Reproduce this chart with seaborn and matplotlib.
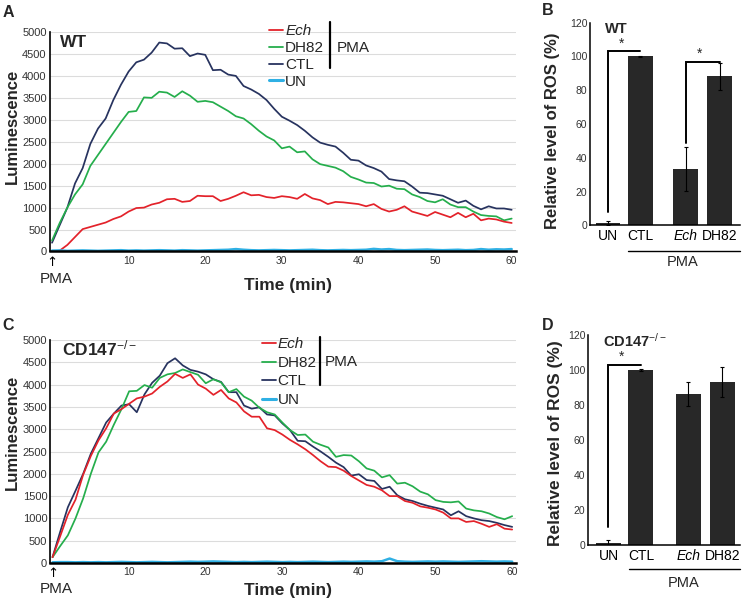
import matplotlib
matplotlib.use("Agg")
import matplotlib.pyplot as plt
import matplotlib.transforms as mtransforms
from matplotlib.lines import Line2D
import seaborn as sns
import pandas as pd

# ---------------- data ----------------
time = list(range(61))

A_ech = [0, 20, 150, 330, 510, 560, 610, 660, 740, 800, 910, 990, 1000, 1070, 1110, 1190, 1200, 1130, 1150, 1270,
         1260, 1260, 1150, 1200, 1270, 1350, 1280, 1290, 1240, 1220, 1260, 1240, 1200, 1310, 1210, 1170, 1080, 1130,
         1120, 1100, 1080, 1030, 1080, 970, 910, 950, 1030, 910, 860, 810, 900, 840, 780, 880, 780, 860, 710, 750,
         730, 680, 650]
A_dh82 = [250, 650, 1000, 1300, 1530, 1950, 2200, 2450, 2700, 2950, 3180, 3200, 3510, 3500, 3640, 3620, 3520, 3650,
          3550, 3410, 3430, 3400, 3300, 3200, 3080, 3030, 2900, 2750, 2620, 2530, 2350, 2390, 2260, 2280, 2100, 1990,
          1950, 1910, 1830, 1700, 1640, 1570, 1560, 1480, 1500, 1430, 1420, 1300, 1240, 1150, 1120, 1190, 1070, 1010,
          1010, 910, 830, 810, 800, 710, 750]
A_ctl = [200, 600, 1000, 1550, 1900, 2450, 2800, 3030, 3450, 3800, 4100, 4310, 4370, 4530, 4760, 4740, 4620, 4630,
         4450, 4510, 4480, 4130, 4140, 4030, 4000, 3770, 3690, 3590, 3450, 3250, 3070, 2980, 2880, 2750, 2600, 2480,
         2430, 2390, 2250, 2090, 2070, 1960, 1900, 1820, 1650, 1620, 1600, 1480, 1340, 1330, 1300, 1270, 1190, 1110,
         1160, 1040, 960, 1030, 980, 980, 950]
A_un = [20, 25, 15, 20, 25, 20, 15, 20, 25, 30, 20, 25, 20, 25, 30, 25, 20, 30, 25, 20, 25, 30, 35, 40, 55, 40, 30,
        25, 30, 35, 30, 25, 30, 35, 40, 30, 25, 30, 35, 30, 35, 40, 60, 45, 55, 35, 30, 35, 40, 45, 35, 30, 35, 40,
        30, 35, 55, 40, 50, 45, 55]

C_ech = [130, 600, 1080, 1420, 1980, 2400, 2750, 3020, 3350, 3450, 3570, 3690, 3730, 3800, 3950, 4070, 4240, 4150,
         4230, 4000, 3910, 3770, 3880, 3690, 3600, 3400, 3280, 3280, 3020, 2980, 2880, 2760, 2660, 2550, 2420, 2280,
         2160, 2150, 2070, 1950, 1850, 1750, 1710, 1630, 1500, 1500, 1390, 1350, 1270, 1240, 1200, 1130, 1000, 1000,
         920, 940, 880, 810, 870, 770, 750]
C_dh82 = [130, 380, 620, 1000, 1450, 2000, 2480, 2720, 3100, 3450, 3850, 3860, 3990, 3930, 4150, 4230, 4260, 4340,
          4280, 4220, 4030, 4120, 4050, 3830, 3900, 3730, 3640, 3480, 3380, 3330, 3150, 2980, 2870, 2880, 2720, 2650,
          2590, 2380, 2420, 2410, 2280, 2120, 2070, 1920, 1970, 1780, 1800, 1720, 1600, 1540, 1410, 1370, 1360, 1380,
          1220, 1180, 1160, 1110, 1030, 980, 1050]
C_ctl = [130, 700, 1250, 1620, 2000, 2450, 2800, 3150, 3350, 3530, 3560, 3380, 3780, 4040, 4200, 4480, 4590, 4430,
         4330, 4290, 4230, 4120, 4060, 3830, 3830, 3530, 3460, 3490, 3330, 3310, 3130, 2980, 2740, 2730, 2610, 2500,
         2380, 2250, 2150, 1960, 1990, 1860, 1840, 1660, 1710, 1520, 1430, 1390, 1330, 1280, 1240, 1200, 1070, 1160,
         1050, 1000, 960, 940, 900, 850, 810]
C_un = [15, 20, 20, 15, 20, 15, 20, 15, 20, 25, 20, 15, 20, 25, 20, 15, 20, 25, 30, 25, 30, 35, 30, 25, 20, 25, 20,
        25, 30, 25, 20, 25, 20, 25, 30, 25, 20, 25, 30, 25, 30, 35, 30, 40, 100, 40, 30, 25, 30, 35, 30, 35, 30, 25,
        30, 35, 40, 35, 30, 35, 30]

bar_labels = ["UN", "CTL", "Ech", "DH82"]
B_vals = [1.2, 100, 33.2, 88.3]
B_err = [1.3, 0.5, 13.0, 8.0]
D_vals = [1.3, 100, 86.3, 93.1]
D_err = [1.6, 0.5, 6.7, 8.7]

# ---------------- style ----------------
sns.set_theme(style="white")
plt.rcParams["font.family"] = ["Liberation Sans", "DejaVu Sans"]
plt.rcParams["mathtext.fontset"] = "custom"
plt.rcParams["mathtext.rm"] = "Liberation Sans"
plt.rcParams["mathtext.it"] = "Liberation Sans:italic"
plt.rcParams["mathtext.bf"] = "Liberation Sans:bold"

pal = {"Ech": "#e3222a", "DH82": "#25ae4c", "CTL": "#27335f", "UN": "#2fb0e4"}
BAR_COLOR = "#282828"
TICK_COLOR = "#333333"

W, H = 750, 603
fig = plt.figure(figsize=(7.5, 6.03), dpi=100)


def ax_rect(l, r, t, b):
    return [l / W, 1 - b / H, (r - l) / W, (b - t) / H]


axA = fig.add_axes(ax_rect(49.5, 515.5, 32, 251.5))
axC = fig.add_axes(ax_rect(50, 516, 340, 563))
axB = fig.add_axes(ax_rect(590, 740, 22.7, 225.3))
axD = fig.add_axes(ax_rect(588, 740, 335, 545))


def line_panel(ax, ech, dh82, ctl, un, title, leg_xy, leg_sp, bar_x, bar_y, pma_xy,
               xlab_y, pma_y, ylab_xy, title_xy):
    df = pd.DataFrame({
        "Time": time * 3,
        "Lum": ctl + dh82 + ech,
        "Group": ["CTL"] * len(time) + ["DH82"] * len(time) + ["Ech"] * len(time),
    })
    sns.lineplot(data=df, x="Time", y="Lum", hue="Group", palette=pal, legend=False,
                 errorbar=None, linewidth=1.25, ax=ax)
    sns.lineplot(x=time, y=un, color=pal["UN"], linewidth=1.8, errorbar=None, ax=ax)
    ax.set_xlim(-0.33, 60.5)
    ax.set_ylim(0, 5000)
    ax.set_yticks(range(0, 5001, 500))
    ax.set_xticks(range(0, 61, 10))
    ax.set_xticklabels(["\u2191"] + [str(v) for v in range(10, 61, 10)])
    ax.tick_params(axis="y", length=0, pad=2, labelsize=8, labelcolor=TICK_COLOR)
    ax.tick_params(axis="x", length=0, pad=3, labelsize=7.5, labelcolor=TICK_COLOR)
    arrow = ax.xaxis.get_ticklabels()[0]
    arrow.set_fontsize(9.5)
    arrow.set_color("black")
    arrow.set_family(["DejaVu Sans"])
    ax.yaxis.grid(True, color="#dcdcdc", linewidth=0.8)
    ax.set_axisbelow(True)
    sns.despine(ax=ax)
    ax.spines["left"].set_linewidth(1.2)
    ax.spines["left"].set_color("black")
    ax.spines["bottom"].set_linewidth(1.8)
    ax.spines["bottom"].set_color("black")
    ax.set_xlabel("Time (min)", fontsize=12.5, fontweight="bold")
    ax.xaxis.set_label_coords(0.511, xlab_y)
    ax.set_ylabel("Luminescence", fontsize=12, fontweight="bold")
    ax.yaxis.set_label_coords(*ylab_xy)
    trans = mtransforms.blended_transform_factory(ax.transData, ax.transAxes)
    ax.text(0.5, pma_y, "PMA", transform=trans, ha="center", va="center", fontsize=11)
    ax.text(title_xy[0], title_xy[1], title, transform=ax.transAxes, ha="left", va="baseline",
            fontsize=12.5, fontweight="bold")
    labels = ["Ech", "DH82", "CTL", "UN"]
    handles = [Line2D([], [], color=pal[k], linewidth=(2.2 if k == "UN" else 1.3)) for k in labels]
    leg = ax.legend(handles, labels, loc="upper left", bbox_to_anchor=leg_xy, frameon=False,
                    handlelength=0.9, handletextpad=0.12, labelspacing=leg_sp, borderpad=0,
                    borderaxespad=0, fontsize=11)
    leg.get_texts()[0].set_fontstyle("italic")
    ax.plot([bar_x, bar_x], bar_y, transform=ax.transAxes, color="black", lw=1.6, clip_on=False)
    ax.text(pma_xy[0], pma_xy[1], "PMA", transform=ax.transAxes, ha="left", va="center", fontsize=11)


line_panel(axA, A_ech, A_dh82, A_ctl, A_un, "WT",
           leg_xy=(0.472, 1.036), leg_sp=0.19, bar_x=0.602, bar_y=[1.0456, 0.836],
           pma_xy=(0.617, 0.927), xlab_y=-0.12, pma_y=-0.125, ylab_xy=(-0.063, 0.572),
           title_xy=(0.0225, 0.932))
line_panel(axC, C_ech, C_dh82, C_ctl, C_un, r"CD147$^{-/-}$",
           leg_xy=(0.455, 1.012), leg_sp=0.3, bar_x=0.58, bar_y=[1.013, 0.798],
           pma_xy=(0.590, 0.901), xlab_y=-0.09, pma_y=-0.116, ylab_xy=(-0.064, 0.587),
           title_xy=(0.026, 0.933))


def bar_panel(ax, vals, errs, pos, xlim, title, title_xy, ylab_xy, brackets, pma_line_y, pma_text_y,
              ylab_size):
    df = pd.DataFrame({"pos": pos, "val": vals})
    sns.barplot(data=df, x="pos", y="val", native_scale=True, width=0.77, color=BAR_COLOR,
                saturation=1, errorbar=None, linewidth=0, ax=ax)
    ax.errorbar(pos, vals, yerr=errs, fmt="none", ecolor="black", elinewidth=0.8, capsize=1.5,
                capthick=0.8, zorder=3)
    ax.set_xlim(*xlim)
    ax.set_ylim(0, 120)
    ax.set_yticks(range(0, 121, 20))
    ax.set_xticks(pos)
    ax.set_xticklabels(bar_labels)
    ax.xaxis.get_ticklabels()[2].set_fontstyle("italic")
    ax.tick_params(axis="y", length=0, pad=2, labelsize=7.5, labelcolor=TICK_COLOR)
    ax.tick_params(axis="x", length=0, pad=3, labelsize=10, labelcolor="black")
    sns.despine(ax=ax)
    for s in ("left", "bottom"):
        ax.spines[s].set_linewidth(1.1)
        ax.spines[s].set_color("black")
    ax.set_xlabel("")
    ax.set_ylabel("Relative level of ROS (%)", fontsize=ylab_size, fontweight="bold")
    ax.yaxis.set_label_coords(*ylab_xy)
    ax.text(title_xy[0], title_xy[1], title, transform=ax.transAxes, ha="left", va="baseline",
            fontsize=10.5, fontweight="bold")
    for (i, j, y0, y1) in brackets:
        ax.plot([pos[i], pos[i], pos[j]], [y0, y1, y1], color="black", lw=1.4,
                solid_joinstyle="miter", clip_on=False)
        ax.text((pos[i] + pos[j]) / 2 - 0.08, y1 + 0.5, "*", ha="center", va="bottom", fontsize=10)
    trans = mtransforms.blended_transform_factory(ax.transData, ax.transAxes)
    ax.plot([0.6, xlim[1]], [pma_line_y, pma_line_y], transform=trans, color="black", lw=1.0,
            clip_on=False)
    ax.text(2.2, pma_text_y, "PMA", transform=trans, ha="center", va="center", fontsize=10.5)


bar_panel(axB, B_vals, B_err, [0, 0.95, 2.28, 3.28], (-0.53, 3.88), "WT", (0.1, 0.949),
          (-0.2, 0.465), [(0, 1, 8, 103), (2, 3, 48.5, 97)], -0.125, -0.18, 12)
bar_panel(axD, D_vals, D_err, [0, 0.95, 2.33, 3.33], (-0.6, 3.85), r"CD147$^{-/-}$", (0.099, 0.943),
          (-0.164, 0.486), [(0, 1, 10.5, 103)], -0.114, -0.181, 12.5)

for (x, y, s) in [(3, 17, "A"), (542, 15, "B"), (2, 330, "C"), (542, 330, "D")]:
    fig.text(x / W, 1 - y / H, s, fontsize=11.5, fontweight="bold", ha="left", va="baseline")

fig.savefig("out.png", dpi=100)
